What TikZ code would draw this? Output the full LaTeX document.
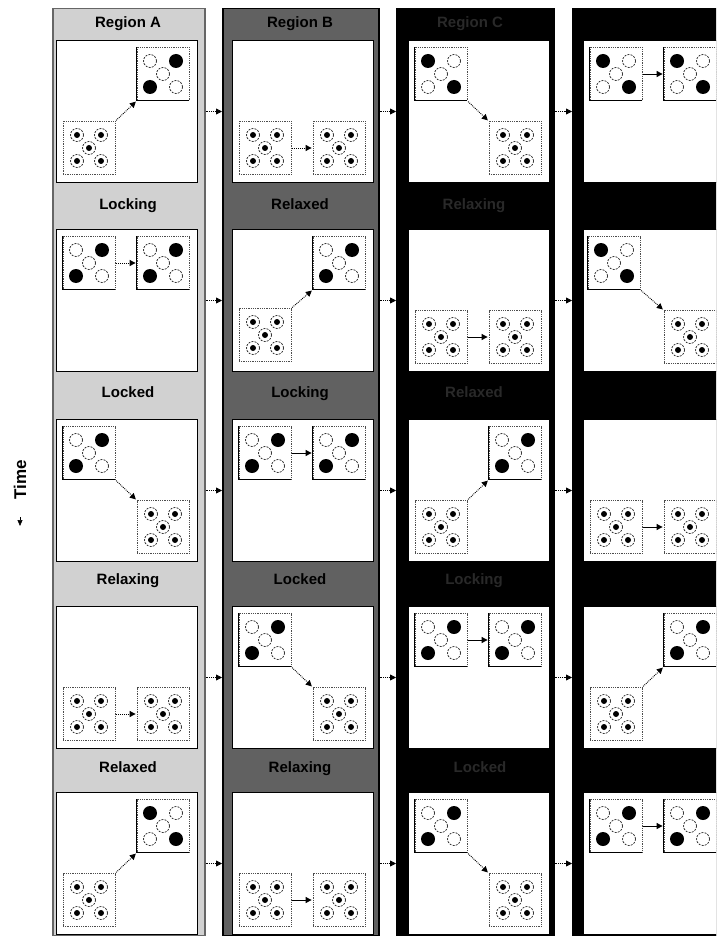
\documentclass[tikz,border=0pt]{standalone}
\usepackage{fontspec}
\setmainfont{Liberation Sans}
\usetikzlibrary{arrows.meta}
\tikzset{
  frameA/.style={fill=black!18, draw=black!60, line width=1.5pt, inner sep=0pt, anchor=north west, minimum height=927pt},
  frameB/.style={frameA, fill=black!62, draw=black},
  frameC/.style={frameA, fill=black, draw=black},
  panel/.style={fill=white, draw=black, line width=1pt, minimum width=141pt, minimum height=142pt, inner sep=0pt, anchor=north west},
  sitebox/.style={draw=black!70, densely dotted, line width=0.8pt, fill=white, minimum width=52pt, minimum height=53pt, inner sep=0pt},
  ring/.style={draw=black!85, dash pattern=on 2pt off 1.2pt, line width=0.7pt},
  statelabel/.style={font=\bfseries\fontsize{15}{15}\selectfont, text height=11pt, text depth=3pt},
  fadelabel/.style={statelabel, text=black!84},
  xfer/.style={line width=0.9pt, -{Triangle[length=6pt,width=6pt]}, shorten >=1pt, shorten <=1pt},
  xferdot/.style={xfer, densely dotted},
  hop/.style={densely dotted, line width=0.8pt, -{Triangle[length=6pt,width=6pt]}}
}
\newcommand{\relaxsite}[3]{%
  \node[sitebox] (#1) at ([shift={(#3)}]#2.north west) {};
  \foreach \dx/\dy in {-12/-13,12/-13,0/0,-12/13,12/13}{%
    \draw[ring] ([shift={(\dx,\dy)}]#1.center) circle (6.5);
    \fill ([shift={(\dx,\dy)}]#1.center) circle (3);
  }}
\newcommand{\locksite}[4]{%
  \node[sitebox] (#1) at ([shift={(#3)}]#2.north west) {};
  \draw[line width=0.9pt] (#1.north west) -- (#1.south west) -- (#1.south east);
  \draw[ring] (#1.center) circle (6.5);
  \ifnum#4=1
    \fill ([shift={(13,-13)}]#1.center) circle (7);
    \fill ([shift={(-13,13)}]#1.center) circle (7);
    \draw[ring] ([shift={(-13,-13)}]#1.center) circle (6.5);
    \draw[ring] ([shift={(13,13)}]#1.center) circle (6.5);
  \else
    \fill ([shift={(-13,-13)}]#1.center) circle (7);
    \fill ([shift={(13,13)}]#1.center) circle (7);
    \draw[ring] ([shift={(13,-13)}]#1.center) circle (6.5);
    \draw[ring] ([shift={(-13,13)}]#1.center) circle (6.5);
  \fi}

\begin{document}
\begin{tikzpicture}[x=1pt,y=-1pt]
\useasboundingbox (0,0) rectangle (716,936);
\clip (0,0) rectangle (716,936);
\fill[white] (0,0) rectangle (716,936);

\node[frameA, minimum width=152pt] (colA) at (52,8) {};
\node[frameB, minimum width=156pt] (colB) at (222,8) {};
\node[frameC, minimum width=157pt] (colC) at (396,8) {};
\node[frameC, minimum width=158pt] (colD) at (572,8) {};

\node[statelabel] (lA0) at (128,24) {Region A};
\node[statelabel] (lA1) at (128,205) {Locking};
\node[statelabel] (lA2) at (128,393) {Locked};
\node[statelabel] (lA3) at (128,580) {Relaxing};
\node[statelabel] (lA4) at (128,768) {Relaxed};
\node[statelabel] (lB0) at (300,24) {Region B};
\node[statelabel] (lB1) at (300,205) {Relaxed};
\node[statelabel] (lB2) at (300,393) {Locking};
\node[statelabel] (lB3) at (300,580) {Locked};
\node[statelabel] (lB4) at (300,768) {Relaxing};
\node[fadelabel] (lC0) at (470,24) {Region C};
\node[fadelabel] (lC1) at (474,205) {Relaxing};
\node[fadelabel] (lC2) at (474,393) {Relaxed};
\node[fadelabel] (lC3) at (474,580) {Locking};
\node[fadelabel] (lC4) at (480,768) {Locked};

\node[panel] (pA1) at (56,40) {};
\node[panel] (pA2) at (56,229) {};
\node[panel] (pA3) at (56,419) {};
\node[panel] (pA4) at (56,606) {};
\node[panel] (pA5) at (56,792) {};
\node[panel] (pB1) at (232,40) {};
\node[panel] (pB2) at (232,229) {};
\node[panel] (pB3) at (232,419) {};
\node[panel] (pB4) at (232,606) {};
\node[panel] (pB5) at (232,792) {};
\node[panel] (pC1) at (408,40) {};
\node[panel] (pC2) at (408,229) {};
\node[panel] (pC3) at (408,419) {};
\node[panel] (pC4) at (408,606) {};
\node[panel] (pC5) at (408,792) {};
\node[panel] (pD1) at (583,40) {};
\node[panel] (pD2) at (583,229) {};
\node[panel] (pD3) at (583,419) {};
\node[panel] (pD4) at (583,606) {};
\node[panel] (pD5) at (583,792) {};

\relaxsite{A1bl}{pA1}{33,108}
\locksite{A1tr}{pA1}{107,34}{1}
\draw[xferdot] (A1bl.north east) -- (A1tr.south west);
\relaxsite{B1bl}{pB1}{33,108}
\relaxsite{B1br}{pB1}{107,108}
\draw[xferdot] (B1bl) -- (B1br);
\locksite{C1tl}{pC1}{33,34}{2}
\relaxsite{C1br}{pC1}{107,108}
\draw[xferdot] (C1tl.south east) -- (C1br.north west);
\locksite{D1tl}{pD1}{33,34}{2}
\locksite{D1tr}{pD1}{107,34}{2}
\draw[xfer] (D1tl) -- (D1tr);

\locksite{A2tl}{pA2}{33,34}{1}
\locksite{A2tr}{pA2}{107,34}{1}
\draw[xferdot] (A2tl) -- (A2tr);
\relaxsite{B2bl}{pB2}{33,106}
\locksite{B2tr}{pB2}{107,34}{1}
\draw[xferdot] (B2bl.north east) -- (B2tr.south west);
\relaxsite{C2bl}{pC2}{33,108}
\relaxsite{C2br}{pC2}{107,108}
\draw[xfer] (C2bl) -- (C2br);
\locksite{D2tl}{pD2}{31,34}{2}
\relaxsite{D2br}{pD2}{107,108}
\draw[xferdot] (D2tl.south east) -- (D2br.north west);

\locksite{A3tl}{pA3}{33,34}{1}
\relaxsite{A3br}{pA3}{107,108}
\draw[xferdot] (A3tl.south east) -- (A3br.north west);
\locksite{B3tl}{pB3}{33,34}{1}
\locksite{B3tr}{pB3}{107,34}{1}
\draw[xfer] (B3tl) -- (B3tr);
\relaxsite{C3bl}{pC3}{33,108}
\locksite{C3tr}{pC3}{107,34}{1}
\draw[xferdot] (C3bl.north east) -- (C3tr.south west);
\relaxsite{D3bl}{pD3}{33,108}
\relaxsite{D3br}{pD3}{107,108}
\draw[xfer] (D3bl) -- (D3br);

\relaxsite{A4bl}{pA4}{33,108}
\relaxsite{A4br}{pA4}{107,108}
\draw[xferdot] (A4bl) -- (A4br);
\locksite{B4tl}{pB4}{33,34}{1}
\relaxsite{B4br}{pB4}{107,108}
\draw[xferdot] (B4tl.south east) -- (B4br.north west);
\locksite{C4tl}{pC4}{33,34}{1}
\locksite{C4tr}{pC4}{107,34}{1}
\draw[xfer] (C4tl) -- (C4tr);
\relaxsite{D4bl}{pD4}{33,108}
\locksite{D4tr}{pD4}{107,34}{1}
\draw[xferdot] (D4bl.north east) -- (D4tr.south west);

\relaxsite{A5bl}{pA5}{33,108}
\locksite{A5tr}{pA5}{107,34}{2}
\draw[xferdot] (A5bl.north east) -- (A5tr.south west);
\relaxsite{B5bl}{pB5}{33,108}
\relaxsite{B5br}{pB5}{107,108}
\draw[xfer] (B5bl) -- (B5br);
\locksite{C5tl}{pC5}{33,34}{1}
\relaxsite{C5br}{pC5}{107,108}
\draw[xferdot] (C5tl.south east) -- (C5br.north west);
\locksite{D5tl}{pD5}{33,34}{1}
\locksite{D5tr}{pD5}{107,34}{1}
\draw[xfer] (D5tl) -- (D5tr);

\draw[hop] (colA.east |- pA1.east) -- (colB.west |- pA1.east);
\draw[hop] (colA.east |- pA2.east) -- (colB.west |- pA2.east);
\draw[hop] (colA.east |- pA3.east) -- (colB.west |- pA3.east);
\draw[hop] (colA.east |- pA4.east) -- (colB.west |- pA4.east);
\draw[hop] (colA.east |- pA5.east) -- (colB.west |- pA5.east);
\draw[hop] (colB.east |- pB1.east) -- (colC.west |- pB1.east);
\draw[hop] (colB.east |- pB2.east) -- (colC.west |- pB2.east);
\draw[hop] (colB.east |- pB3.east) -- (colC.west |- pB3.east);
\draw[hop] (colB.east |- pB4.east) -- (colC.west |- pB4.east);
\draw[hop] (colB.east |- pB5.east) -- (colC.west |- pB5.east);
\draw[hop] (colC.east |- pC1.east) -- (colD.west |- pC1.east);
\draw[hop] (colC.east |- pC2.east) -- (colD.west |- pC2.east);
\draw[hop] (colC.east |- pC3.east) -- (colD.west |- pC3.east);
\draw[hop] (colC.east |- pC4.east) -- (colD.west |- pC4.east);
\draw[hop] (colC.east |- pC5.east) -- (colD.west |- pC5.east);

\node[font=\bfseries\fontsize{17}{17}\selectfont, rotate=90] (time) at (20,480) {Time};
\coordinate (tend) at (20,526);
\draw[line width=0.6pt, shorten <=14pt, -{Triangle[length=6pt,width=5pt]}] (time.west) -- (tend);
\end{tikzpicture}
\end{document}
